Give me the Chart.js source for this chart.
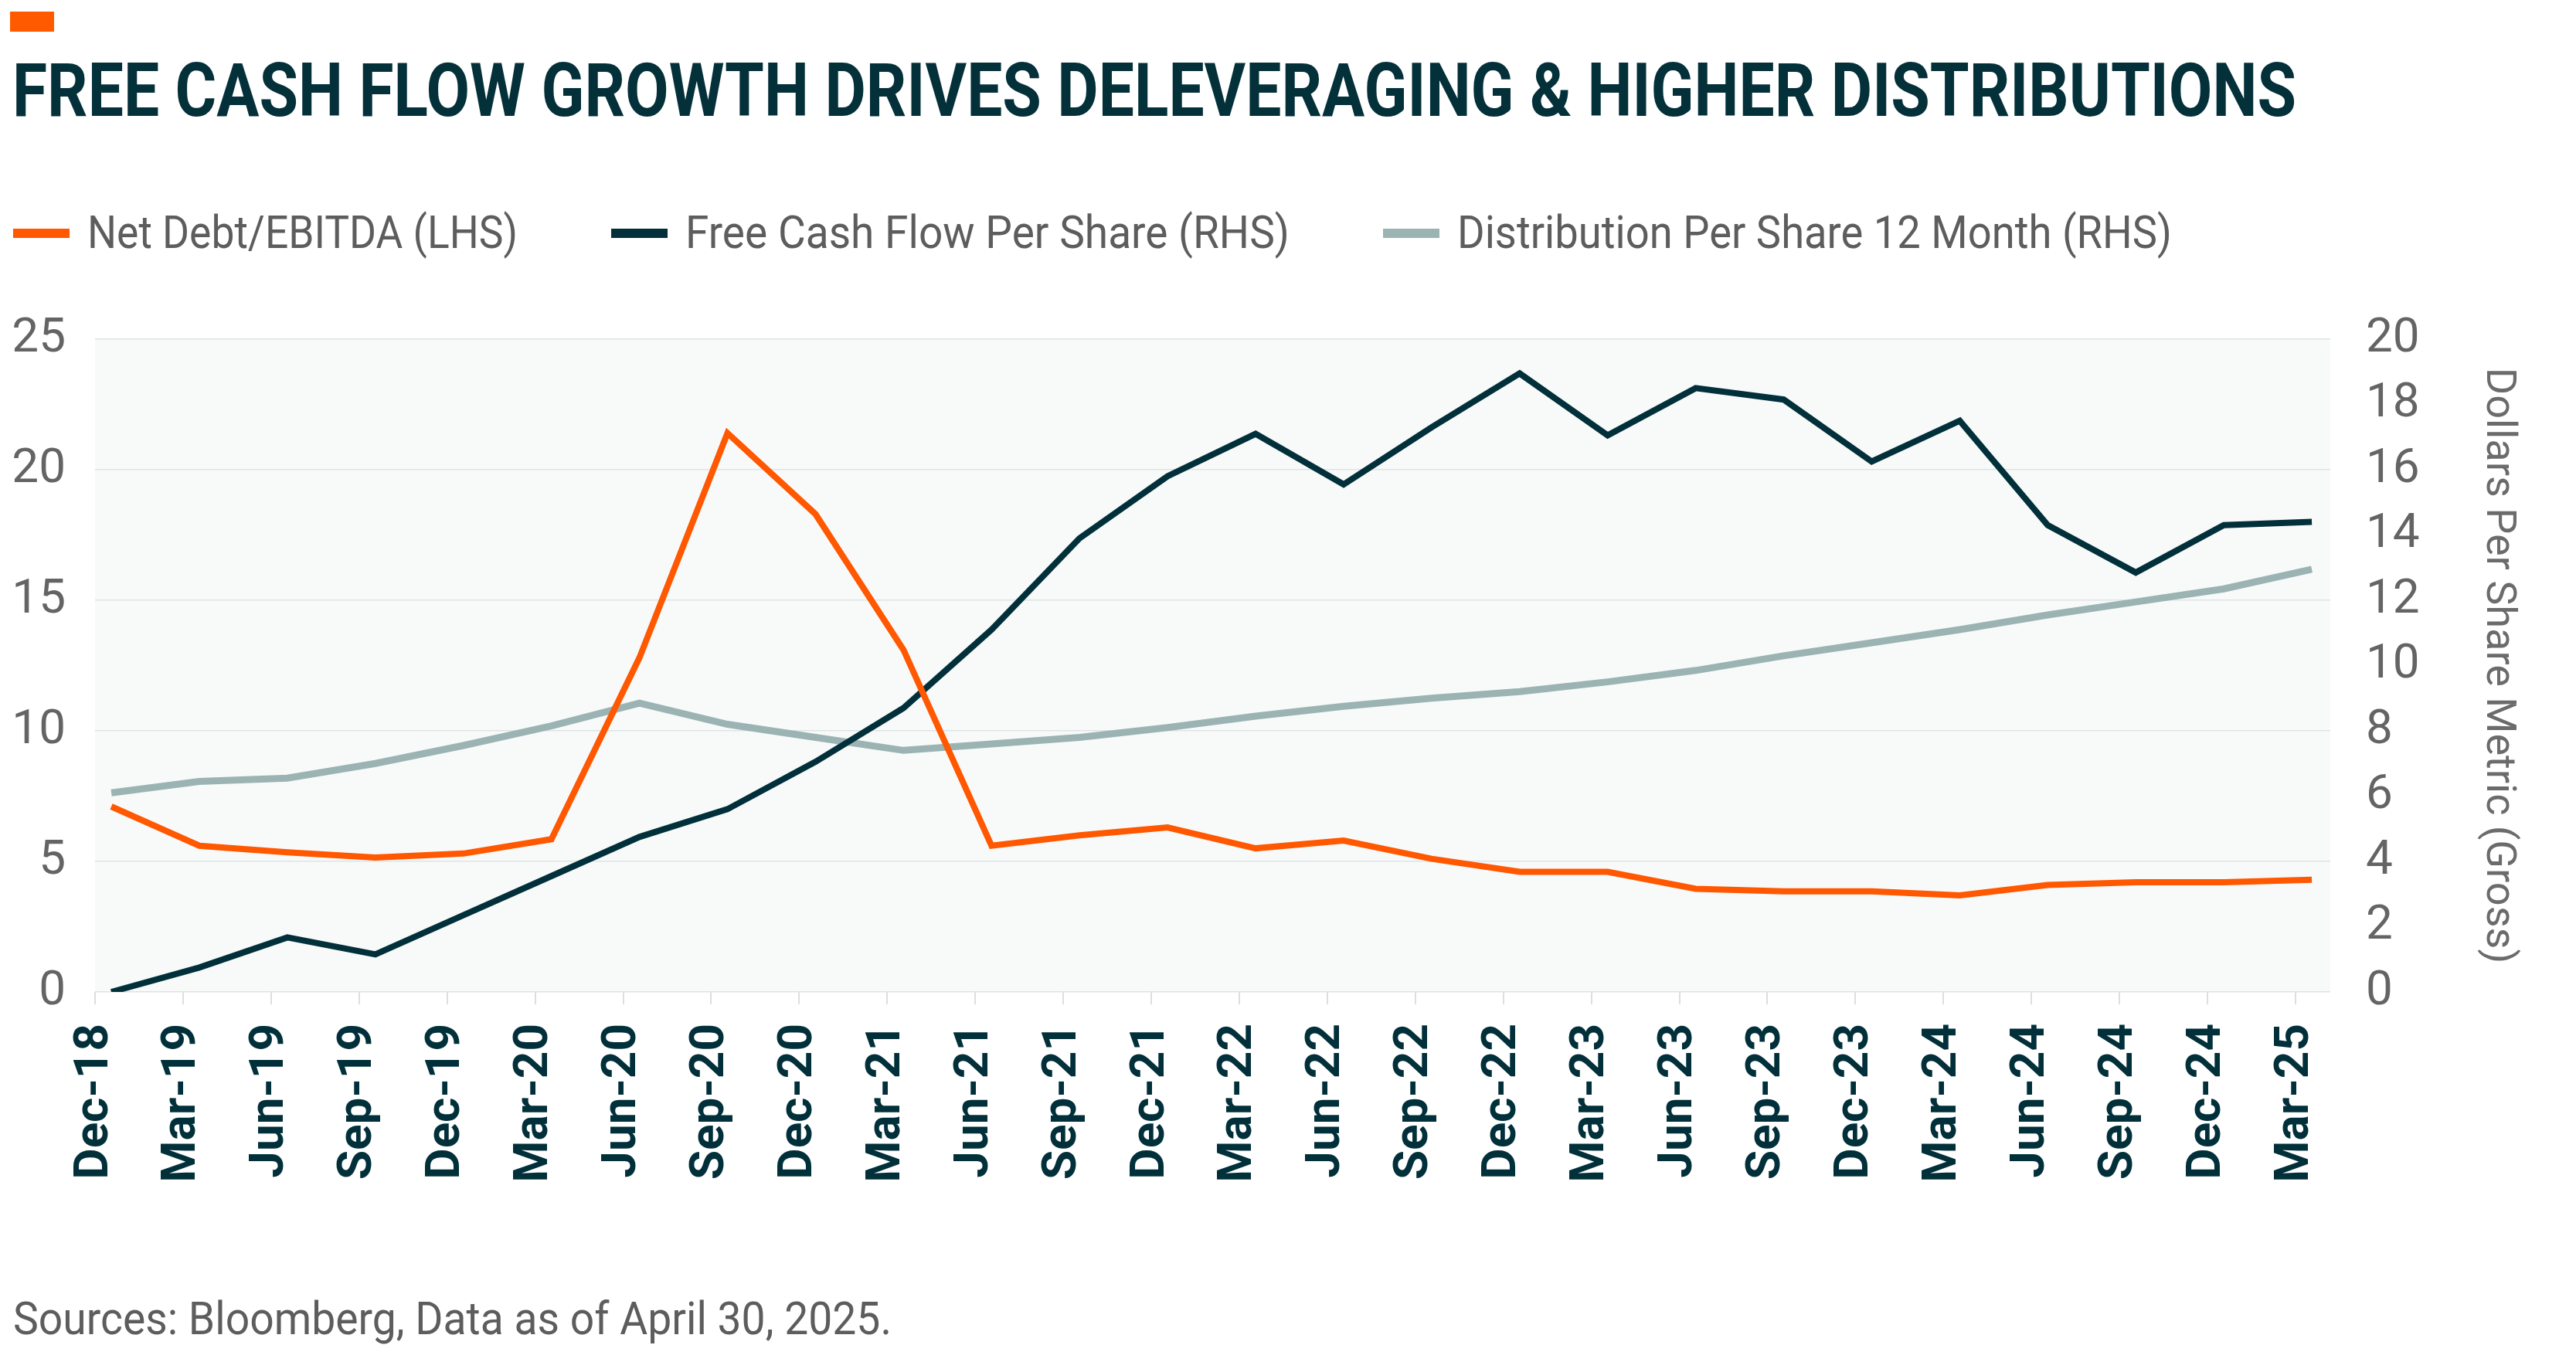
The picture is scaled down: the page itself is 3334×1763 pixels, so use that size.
<!DOCTYPE html>
<html>
<head>
<meta charset="utf-8">
<title>Free cash flow growth drives deleveraging & higher distributions</title>
<script src="https://cdn.jsdelivr.net/npm/chart.js@4.4.1/dist/chart.umd.min.js"></script>
<style>
  html, body { margin: 0; padding: 0; background: #fff; }
  body { width: 3334px; height: 1763px; position: relative; overflow: hidden;
         font-family: Roboto, "Liberation Sans", sans-serif; }
  #mark { position: absolute; left: 13px; top: 15px; width: 57px; height: 26px; background: #ff5a00; }
  #title { position: absolute; left: 16px; top: 69px; font-size: 96px; line-height: 1; font-weight: 700;
           color: #04303a; white-space: nowrap; transform-origin: 0 0; }
  .leg-line { position: absolute; height: 12px; }
  .leg-text { position: absolute; font-size: 60px; line-height: 1; color: #5d5d5d; white-space: nowrap;
              transform-origin: 0 0; }
  #source { position: absolute; left: 17px; top: 1677px; font-size: 60px; line-height: 1; color: #5d5d5d;
            white-space: nowrap; transform-origin: 0 0; }
  #wrap { position: absolute; left: 0; top: 0; width: 3334px; height: 1763px; }
</style>
</head>
<body>
<div id="mark"></div>
<div id="title">FREE CASH FLOW GROWTH DRIVES DELEVERAGING &amp; HIGHER DISTRIBUTIONS</div>
<div id="legend"></div>
<div id="wrap"><canvas id="chart"></canvas></div>
<div id="source">Sources: Bloomberg, Data as of April 30, 2025.</div>

<script>
// quarter end labels
const quarters = ['Dec-18', 'Mar-19', 'Jun-19', 'Sep-19', 'Dec-19', 'Mar-20', 'Jun-20', 'Sep-20', 'Dec-20',
  'Mar-21', 'Jun-21', 'Sep-21', 'Dec-21', 'Mar-22', 'Jun-22', 'Sep-22', 'Dec-22', 'Mar-23', 'Jun-23',
  'Sep-23', 'Dec-23', 'Mar-24', 'Jun-24', 'Sep-24', 'Dec-24', 'Mar-25'];

// Net Debt / EBITDA (left axis)
const netDebtEbitda = [7.1, 5.6, 5.35, 5.15, 5.3, 5.85, 12.8, 21.4, 18.3, 13.1, 5.6, 6.0, 6.3, 5.5,
  5.8, 5.1, 4.6, 4.6, 3.95, 3.85, 3.85, 3.7, 4.1, 4.2, 4.2, 4.3];

// Free cash flow per share (right axis)
const fcfPerShare = [0, 0.75, 1.67, 1.15, 2.35, 3.55, 4.75, 5.6, 7.05, 8.7, 11.1, 13.9, 15.8, 17.1,
  15.55, 17.3, 18.95, 17.05, 18.5, 18.15, 16.25, 17.5, 14.3, 12.85, 14.3, 14.4];

// Distribution per share, trailing 12 months (right axis)
const distPerShare = [6.1, 6.45, 6.55, 7.0, 7.55, 8.15, 8.85, 8.2, 7.8, 7.4, 7.6, 7.8, 8.1, 8.45,
  8.75, 9.0, 9.2, 9.5, 9.85, 10.3, 10.7, 11.1, 11.55, 11.95, 12.35, 12.95];

const leftTicks = [0, 5, 10, 15, 20, 25];
const rightTicks = [0, 2, 4, 6, 8, 10, 12, 14, 16, 18, 20];

const ORANGE = '#ff5800';
const DARK = '#02303a';
const SAGE = '#9bb4b3';
const GREY_TXT = '#646464';

// labels sit a bit left of the data points in the original
const LABEL_SHIFT = 0.185;

Chart.defaults.font.family = 'Roboto, "Liberation Sans", sans-serif';

function toPoints(arr) {
  return arr.map((v, i) => ({ x: i, y: v }));
}

// light plot background
const plotBg = {
  id: 'plotBg',
  beforeDraw(chart) {
    const { ctx, chartArea: a } = chart;
    ctx.save();
    ctx.fillStyle = '#f8fafa';
    ctx.fillRect(a.left, a.top, a.right - a.left, a.bottom - a.top);
    ctx.restore();
  }
};

const chart = new Chart(document.getElementById('chart'), {
  type: 'line',
  data: {
    datasets: [{
      label: 'Net Debt/EBITDA (LHS)',
      data: toPoints(netDebtEbitda),
      yAxisID: 'y',
      borderColor: ORANGE,
      borderWidth: 8,
      order: 0
    }, {
      label: 'Free Cash Flow Per Share (RHS)',
      data: toPoints(fcfPerShare),
      yAxisID: 'y1',
      borderColor: DARK,
      borderWidth: 8,
      order: 1
    }, {
      label: 'Distribution Per Share 12 Month (RHS)',
      data: toPoints(distPerShare),
      yAxisID: 'y1',
      borderColor: SAGE,
      borderWidth: 9,
      order: 2
    }]
  },
  options: {
    responsive: true,
    maintainAspectRatio: false,
    devicePixelRatio: 1,
    animation: false,
    elements: {
      point: { radius: 0, hoverRadius: 0 },
      line: { tension: 0, fill: false, borderJoinStyle: 'miter' }
    },
    layout: { padding: { top: 439, left: 0, right: 0, bottom: 0 } },
    plugins: {
      legend: { display: false },
      tooltip: { enabled: false }
    },
    scales: {
      x: {
        type: 'linear',
        min: -LABEL_SHIFT,
        max: 25.21,
        afterBuildTicks: axis => {
          axis.ticks = quarters.map((q, i) => ({ value: i - LABEL_SHIFT }));
        },
        afterFit: s => { s.height = 479; },
        ticks: {
          autoSkip: false,
          minRotation: 90,
          maxRotation: 90,
          padding: 25,
          color: DARK,
          font: { size: 62, weight: 'bold' },
          callback: (v, i) => quarters[i]
        },
        grid: {
          drawOnChartArea: false,
          drawTicks: true,
          tickLength: 16,
          color: '#dcdfdf',
          lineWidth: 2
        },
        border: { display: false }
      },
      y: {
        position: 'left',
        min: 0,
        max: 25,
        afterBuildTicks: axis => { axis.ticks = leftTicks.map(v => ({ value: v })); },
        afterFit: s => { s.width = 123; },
        ticks: { color: GREY_TXT, padding: 38, font: { size: 62 } },
        grid: { color: '#e0e3e3', lineWidth: 1.5, drawTicks: false },
        border: { display: false }
      },
      y1: {
        position: 'right',
        min: 0,
        max: 20,
        afterBuildTicks: axis => { axis.ticks = rightTicks.map(v => ({ value: v })); },
        afterFit: s => { s.width = 318; },
        ticks: { color: GREY_TXT, padding: 46, font: { size: 62 } },
        grid: { drawOnChartArea: false, drawTicks: false },
        border: { display: false },
        title: {
          display: true,
          text: 'Dollars Per Share Metric (Gross)',
          color: '#6b6b6b',
          font: { size: 54 },
          padding: { top: 69, bottom: 0 }
        }
      }
    }
  },
  plugins: [plotBg]
});

// html legend built from the datasets
const legendSpots = [
  { line: 17, text: 113, width: 557 },
  { line: 791, text: 887, width: 782 },
  { line: 1790, text: 1886, width: 925 }
];
const legendEl = document.getElementById('legend');
chart.data.datasets.forEach((ds, i) => {
  const spot = legendSpots[i];
  const ln = document.createElement('div');
  ln.className = 'leg-line';
  ln.style.left = spot.line + 'px';
  ln.style.top = '296px';
  ln.style.width = '73px';
  ln.style.background = ds.borderColor;
  legendEl.appendChild(ln);
  const tx = document.createElement('div');
  tx.className = 'leg-text';
  tx.style.left = spot.text + 'px';
  tx.style.top = '271px';
  tx.dataset.fit = spot.width;
  tx.textContent = ds.label;
  legendEl.appendChild(tx);
});

// squeeze the text runs to the widths of the original
function fitWidth(el, w) {
  el.style.transform = 'none';
  const nat = el.getBoundingClientRect().width;
  if (nat > 0) el.style.transform = 'scaleX(' + (w / nat) + ')';
}
function fitAll() {
  fitWidth(document.getElementById('title'), 2956);
  fitWidth(document.getElementById('source'), 1137);
  document.querySelectorAll('.leg-text').forEach(el => fitWidth(el, +el.dataset.fit));
}
fitAll();
if (document.fonts && document.fonts.ready) document.fonts.ready.then(fitAll);
</script>
</body>
</html>
